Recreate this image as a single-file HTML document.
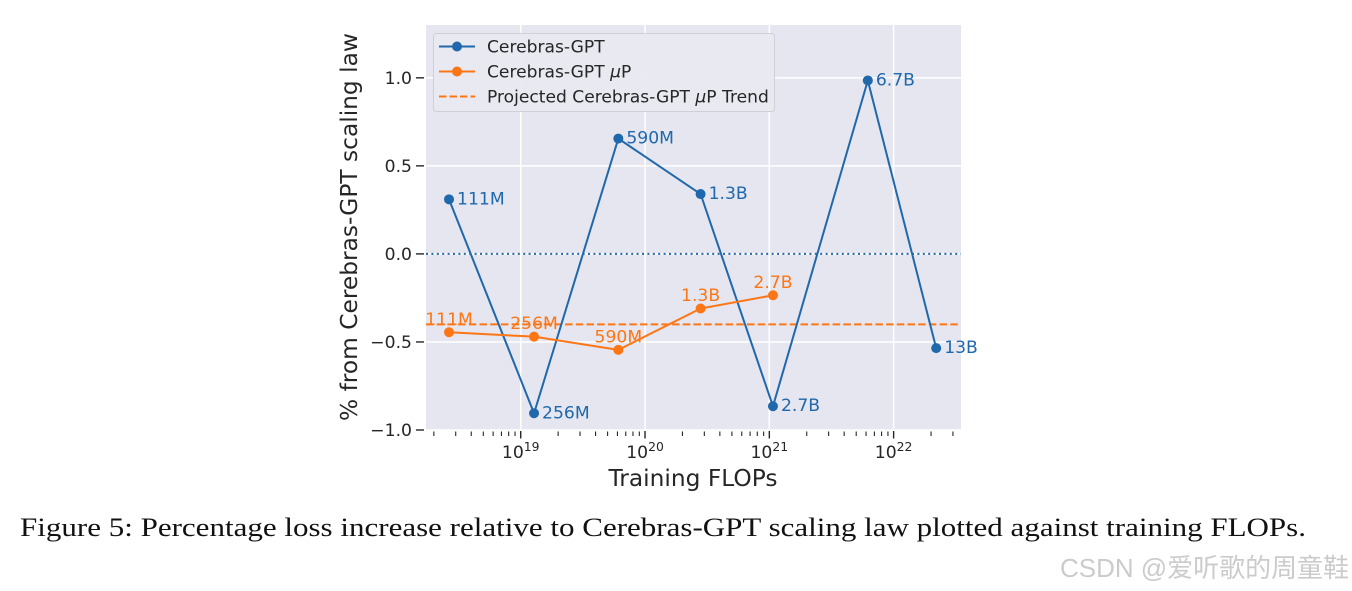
<!DOCTYPE html>
<html lang="en">
<head>
<meta charset="utf-8">
<title>Percentage loss increase relative to Cerebras-GPT scaling law</title>
<style>
html,body{margin:0;padding:0;background:#fff;}
body{width:1352px;height:591px;overflow:hidden;}
svg{display:block;}
text{font-family:"DejaVu Sans",sans-serif;fill:#262626;}
#caption{font-family:"Liberation Serif",serif;fill:#111;}
#watermark{font-family:"Liberation Sans","Noto Sans CJK SC",sans-serif;fill:#cbcbcb;}
</style>
</head>
<body>
<svg id="chart" xmlns="http://www.w3.org/2000/svg" width="1352" height="591" viewBox="0 0 1352 591">
  <rect id="plot-bg" x="426" y="25" width="535" height="405" fill="#e5e6ef"></rect>
  <g id="grid"></g>
  <g id="ticks"></g>
  <g id="series"></g>
  <g>
    <rect x="433.5" y="33.5" width="341" height="78" rx="3" fill="#e8e9f1" fill-opacity="0.9" stroke="#cfcfd4" stroke-width="1"></rect>
    <g>
      <line x1="439" y1="46.5" x2="475" y2="46.5" stroke="#2068ac" stroke-width="2"></line>
      <circle cx="457" cy="46.5" r="5" fill="#2068ac"></circle>
      <text x="487" y="52.5" font-size="17.1">Cerebras-GPT</text>
    </g>
    <g>
      <line x1="439" y1="71.5" x2="475" y2="71.5" stroke="#fd7615" stroke-width="2"></line>
      <circle cx="457" cy="71.5" r="5" fill="#fd7615"></circle>
      <text x="487" y="77.5" font-size="17.1">Cerebras-GPT <tspan font-style="italic">μ</tspan>P</text>
    </g>
    <g>
      <line x1="439" y1="96.5" x2="475" y2="96.5" stroke="#fd7615" stroke-width="2" stroke-dasharray="7.5 3"></line>
      <text x="487" y="102.5" font-size="17.1">Projected Cerebras-GPT <tspan font-style="italic">μ</tspan>P Trend</text>
    </g>
  </g>
  <text transform="translate(357,227) rotate(-90)" text-anchor="middle" font-size="23.3">% from Cerebras-GPT scaling law</text>
  <text x="693" y="486" text-anchor="middle" font-size="23.3">Training FLOPs</text>
  <text id="caption" x="20" y="536" font-size="26.5" textLength="1286" lengthAdjust="spacingAndGlyphs">Figure 5: Percentage loss increase relative to Cerebras-GPT scaling law plotted against training FLOPs.</text>
  <text id="watermark" x="1060" y="577" font-size="26" textLength="289" lengthAdjust="spacingAndGlyphs">CSDN @爱听歌的周童鞋</text>
</svg>
<script>
const flops = [2.65e18, 1.28e19, 6.1e19, 2.8e20, 1.07e21, 6.2e21, 2.2e22];
const scalingLabels = ["111M", "256M", "590M", "1.3B", "2.7B", "6.7B", "13B"];
const scalingValues = [0.31, -0.905, 0.655, 0.34, -0.865, 0.985, -0.535];
const microLabels = ["111M", "256M", "590M", "1.3B", "2.7B"];
const microValues = [-0.445, -0.47, -0.545, -0.31, -0.235];
const trendValue = [-0.4];
const zeroValue = [0];
const yTicks = [-1, -0.5, 0, 0.5, 1];
const yTickLabels = ["−1.0", "−0.5", "0.0", "0.5", "1.0"];
const xDecades = [19, 20, 21, 22];
const minorDecades = [18, 19, 20, 21, 22];

const NS = "http://www.w3.org/2000/svg";
const PLOT = { left: 426, right: 961, top: 25, bottom: 430 };
const BLUE = "#2068ac";
const ORANGE = "#fd7615";
const xLogMin = 18.238, xLogMax = 22.542;
const yMin = -1, yMax = 1.3;
function xScale(v) {
  return PLOT.left + (Math.log10(v) - xLogMin) / (xLogMax - xLogMin) * (PLOT.right - PLOT.left);
}
function yScale(v) {
  return PLOT.bottom - (v - yMin) / (yMax - yMin) * (PLOT.bottom - PLOT.top);
}
function make(tag, attrs, parent) {
  const el = document.createElementNS(NS, tag);
  for (const k in attrs) el.setAttribute(k, attrs[k]);
  parent.appendChild(el);
  return el;
}
const grid = document.getElementById("grid");
const ticks = document.getElementById("ticks");
const series = document.getElementById("series");

yTicks.forEach(function (t, i) {
  const y = yScale(t);
  const g = make("line", { x1: PLOT.left, x2: PLOT.right, y1: y, y2: y, stroke: "#fff", "stroke-width": 1.5 }, grid);
  
  
  const tk = make("line", { x1: 416, x2: 424, y1: y, y2: y, stroke: "#262626", "stroke-width": 1.4 }, ticks);
  
  
  const lb = make("text", { x: 412, y: y + 6.2, "text-anchor": "end", "font-size": 17.2 }, ticks);
  lb.textContent = yTickLabels[i];
  
  
});

xDecades.forEach(function (d) {
  const x = xScale(Math.pow(10, d));
  const g = make("line", { x1: x, x2: x, y1: PLOT.top, y2: PLOT.bottom, stroke: "#fff", "stroke-width": 1.5 }, grid);
  
  
  const tk = make("line", { x1: x, x2: x, y1: 431, y2: 438.5, stroke: "#262626", "stroke-width": 1.4 }, ticks);
  
  
  const lb = make("text", { x: x, y: 458, "text-anchor": "middle", "font-size": 17.2 }, ticks);
  
  
  const base = make("tspan", {}, lb);
  base.textContent = "10";
  const sup = make("tspan", { dy: -7, "font-size": 12.4 }, lb);
  sup.textContent = String(d);
});

minorDecades.forEach(function (d) {
  for (let k = 2; k <= 9; k++) {
    const x = xScale(k * Math.pow(10, d));
    if (x < PLOT.left || x > PLOT.right) continue;
    const tk = make("line", { x1: x, x2: x, y1: 431.5, y2: 436, stroke: "#262626", "stroke-width": 1.1 }, ticks);
    
    
  }
});

const zero = make("line", { x1: PLOT.left, x2: PLOT.right, y1: yScale(zeroValue[0]), y2: yScale(zeroValue[0]), stroke: BLUE, "stroke-width": 2, "stroke-dasharray": "2 3.4" }, series);



const trend = make("line", { x1: PLOT.left, x2: PLOT.right, y1: yScale(trendValue[0]), y2: yScale(trendValue[0]), stroke: ORANGE, "stroke-width": 2, "stroke-dasharray": "7.5 3.2" }, series);



const bluePath = make("polyline", { fill: "none", stroke: BLUE, "stroke-width": 2, "stroke-linejoin": "round", points: scalingValues.map(function (v, i) { return xScale(flops[i]) + "," + yScale(v); }).join(" ") }, series);



const orangePath = make("polyline", { fill: "none", stroke: ORANGE, "stroke-width": 2, "stroke-linejoin": "round", points: microValues.map(function (v, i) { return xScale(flops[i]) + "," + yScale(v); }).join(" ") }, series);



scalingValues.forEach(function (v, i) {
  const cx = xScale(flops[i]), cy = yScale(v);
  const c = make("circle", { cx: cx, cy: cy, r: 5, fill: BLUE }, series);
  
  
  const t = make("text", { x: cx + 8, y: cy + 5, "font-size": 17.2, style: "fill:" + BLUE }, series);
  t.textContent = scalingLabels[i];
  
  
});

microValues.forEach(function (v, i) {
  const cx = xScale(flops[i]), cy = yScale(v);
  const c = make("circle", { cx: cx, cy: cy, r: 5, fill: ORANGE }, series);
  
  
  const t = make("text", { x: cx, y: cy - 7.5, "text-anchor": "middle", "font-size": 17.2, style: "fill:" + ORANGE }, series);
  t.textContent = microLabels[i];
  
  
});
</script>
</body>
</html>
